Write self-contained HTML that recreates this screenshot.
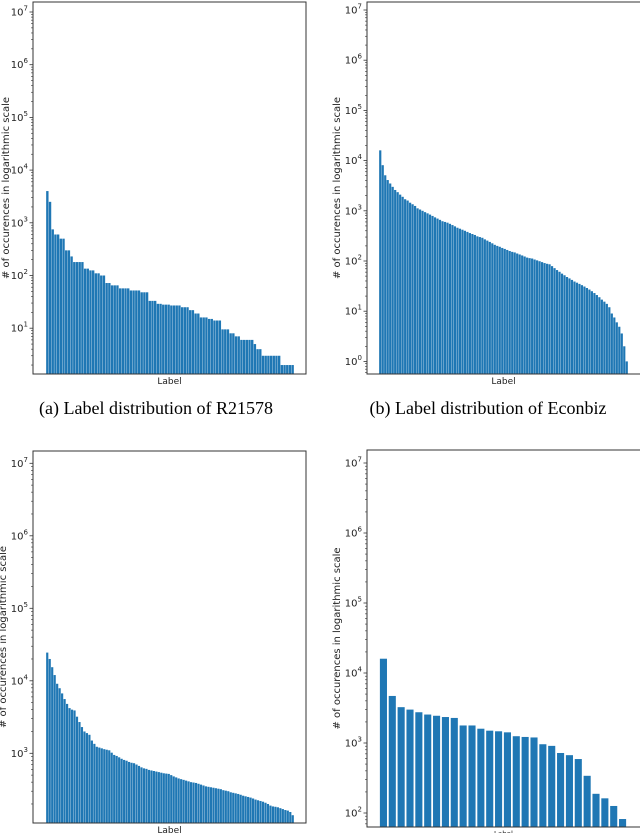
<!DOCTYPE html>
<html><head><meta charset="utf-8"><style>
html,body{margin:0;padding:0;background:#fff;width:640px;height:833px;overflow:hidden}
svg{display:block}
</style></head><body>
<svg id="fig" width="640" height="833" viewBox="0 0 640 833" xmlns="http://www.w3.org/2000/svg">
<text x="156" y="414" text-anchor="middle" font-family="Liberation Serif, serif" font-size="18">(a)  Label distribution of R21578</text>
<text x="488" y="414" text-anchor="middle" font-family="Liberation Serif, serif" font-size="18">(b)  Label distribution of Econbiz</text>
</svg>
<script>
const r21578Values=[4000,2500,750,600,600,500,500,300,300,230,180,180,180,180,135,135,125,125,110,110,100,100,72,72,65,65,65,57,57,57,57,52,52,52,52,48,48,48,33,33,33,29,29,28,28,28,27,27,27,27,25,25,25,22,22,19,19,16,16,16,15,15,14,14,14,9.5,9.5,9.5,8,8,7,7,6,6,6,6,6,5,4,4,3,3,3,3,3,3,3,2,2,2,2,2];
const econbizValues=[16000,8100,5100,4100,3500,3000,2600,2350,2100,1900,1700,1600,1450,1350,1250,1120,1060,1000,940,890,840,790,740,700,660,620,600,580,550,520,490,460,440,420,400,380,360,345,330,310,300,290,270,255,240,225,210,200,192,182,174,166,158,152,148,141,135,129,123,117,114,112,107,103,99,95,91,88,86,79,72,66,61,56,52,48,45,42,39,37,35,33,31,29,27,25,23,21,19,17,15.5,14,12,9,7.5,6,4.9,3.6,2,1];
const thirdValues=[24500,20000,15400,12000,9100,7900,6700,5600,4800,4200,4000,3900,3200,2700,2300,2000,1900,1800,1500,1350,1230,1200,1170,1140,1120,1100,1020,950,920,880,840,810,790,760,740,730,700,670,640,620,610,590,580,570,560,550,540,530,525,520,500,480,465,450,440,430,420,410,400,395,390,380,370,360,350,345,340,335,330,325,320,310,305,300,290,285,280,275,268,260,255,250,245,238,230,225,220,215,208,200,190,185,183,180,175,170,165,162,155,140];
const fourthValues=[16000,4700,3250,3000,2750,2550,2450,2350,2280,1780,1780,1600,1500,1470,1420,1250,1220,1200,960,910,720,670,590,340,188,162,126,82];
const tickExps1=[1,2,3,4,5,6,7];
const tickExps2=[0,1,2,3,4,5,6,7];
const tickExps3=[3,4,5,6,7];
const tickExps4=[2,3,4,5,6,7];

const NS='http://www.w3.org/2000/svg';
const svg=document.getElementById('fig');
function mk(tag,attrs,parent){const e=document.createElementNS(NS,tag);for(const k in attrs)e.setAttribute(k,attrs[k]);(parent||svg).appendChild(e);return e;}

function drawChart(id,box,yTop,expTop,pxPerDec,values,ticks,x0,x1,ytitleX,labelY,labelSize,fillFrac){
  const g=mk('g',{});
  
  
  const yOf=v=>yTop+(expTop-Math.log10(v))*pxPerDec;
  const n=values.length, pitch=(x1-x0)/n, bw=pitch*fillFrac;
  values.forEach((v,i)=>{
    const y=yOf(v);
    const r=mk('rect',{x:(x0+i*pitch+(pitch-bw)/2).toFixed(2),y:y.toFixed(2),width:bw.toFixed(2),height:Math.max(0,box.b-y).toFixed(2),fill:'#1f77b4'},g);
    
    
  });
  const fr=mk('rect',{x:box.l,y:box.t,width:box.r-box.l,height:box.b-box.t,fill:'none',stroke:'#333','stroke-width':1},g);
  
  
  const lo=Math.floor(expTop-(box.b-yTop)/pxPerDec)-1;
  for(let e=lo;e<=expTop;e++){for(let m=2;m<=9;m++){const y=yOf(m*Math.pow(10,e));if(y>box.t&&y<box.b)mk('line',{x1:box.l-2,x2:box.l,y1:y,y2:y,stroke:'#333','stroke-width':0.6},g);}}
  ticks.forEach(e=>{
    const y=yOf(Math.pow(10,e));
    mk('line',{x1:box.l-3.5,x2:box.l,y1:y,y2:y,stroke:'#333','stroke-width':0.8},g);
    const t=mk('text',{x:box.l-5,y:y+3.5,'text-anchor':'end','font-family':'DejaVu Sans, sans-serif','font-size':10,fill:'#222'},g);
    
    
    t.appendChild(document.createTextNode('10'));
    const s=mk('tspan',{dy:-5,'font-size':7},t);s.textContent=e;
  });
  const cy=(box.t+box.b)/2;
  const yt=mk('text',{x:ytitleX,y:cy,'text-anchor':'middle','font-family':'DejaVu Sans, sans-serif','font-size':10,fill:'#222',transform:`rotate(-90 ${ytitleX} ${cy})`},g);
  
  
  yt.textContent='# of occurences in logarithmic scale';
  const xl=mk('text',{x:(box.l+Math.min(box.r,640))/2,y:labelY,'text-anchor':'middle','font-family':'DejaVu Sans, sans-serif','font-size':labelSize,fill:'#222'},g);
  
  
  xl.textContent='Label';
}
drawChart('chart-r21578',{l:33,t:2,r:306,b:374},12,7,52.7,r21578Values,tickExps1,46,294,9,384,9,0.88);
drawChart('chart-econbiz',{l:367,t:2,r:660,b:374},10,7,50.2,econbizValues,tickExps2,379,628,340,384,9,0.88);
drawChart('chart-third',{l:33,t:451,r:306,b:823},463.3,7,72.5,thirdValues,tickExps3,46,294,6,833,9,0.88);
drawChart('chart-fourth',{l:367,t:450,r:660,b:827},463,7,70,fourthValues,tickExps4,379,627,340,836,7,0.8);
</script>
</body></html>
